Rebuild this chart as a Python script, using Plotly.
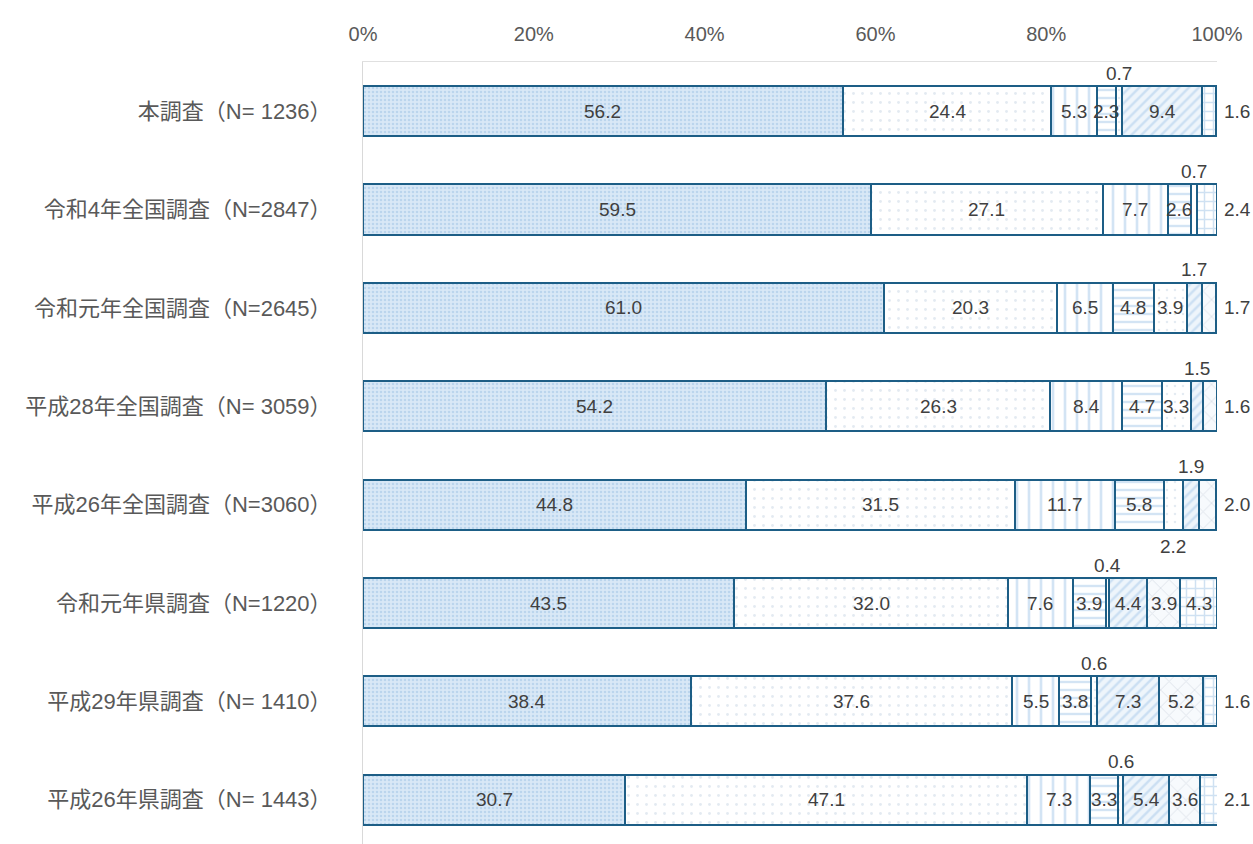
import plotly.graph_objects as go

surveys = [
    "本調査（N= 1236）",
    "令和4年全国調査（N=2847）",
    "令和元年全国調査（N=2645）",
    "平成28年全国調査（N= 3059）",
    "平成26年全国調査（N=3060）",
    "令和元年県調査（N=1220）",
    "平成29年県調査（N= 1410）",
    "平成26年県調査（N= 1443）",
]

c1 = [56.2, 59.5, 61.0, 54.2, 44.8, 43.5, 38.4, 30.7]
c2 = [24.4, 27.1, 20.3, 26.3, 31.5, 32.0, 37.6, 47.1]
c3 = [5.3, 7.7, 6.5, 8.4, 11.7, 7.6, 5.5, 7.3]
c4 = [2.3, 2.6, 4.8, 4.7, 5.8, 3.9, 3.8, 3.3]
c5 = [0.7, 0.7, 3.9, 3.3, 2.2, 0.4, 0.6, 0.6]
c6 = [9.4, 0.0, 1.7, 1.5, 1.9, 4.4, 7.3, 5.4]
c7 = [0.0, 0.0, 1.7, 1.6, 2.0, 3.9, 5.2, 3.6]
c8 = [1.6, 2.4, 0.0, 0.0, 0.0, 4.3, 1.6, 2.1]

series = [c1, c2, c3, c4, c5, c6, c7, c8]
x_ticks = [0, 20, 40, 60, 80, 100]

# label placement overrides: (row, series index) -> where
label_place = {
    (0, 4): "above", (0, 7): "right",
    (1, 4): "above", (1, 7): "right",
    (2, 5): "above", (2, 6): "right",
    (3, 5): "above", (3, 6): "right",
    (4, 4): "below", (4, 5): "above", (4, 6): "right",
    (5, 4): "above",
    (6, 4): "above", (6, 7): "right",
    (7, 4): "above", (7, 7): "right",
}

patterns = [
    dict(shape=".", fgcolor="#9dc1e4", bgcolor="#d9e8f6", size=4, solidity=0.35),
    dict(shape=".", fgcolor="#c8d6e4", bgcolor="#ffffff", size=9, solidity=0.08),
    dict(shape="|", fgcolor="#a8c9ea", bgcolor="#ffffff", size=12, solidity=0.22),
    dict(shape="-", fgcolor="#a8c9ea", bgcolor="#ffffff", size=8, solidity=0.3),
    dict(shape=".", fgcolor="#c8d6e4", bgcolor="#ffffff", size=8, solidity=0.08),
    dict(shape="/", fgcolor="#a8c9ea", bgcolor="#eef5fb", size=7, solidity=0.35),
    dict(shape="x", fgcolor="#c3cdd8", bgcolor="#f7fafd", size=12, solidity=0.15),
    dict(shape="+", fgcolor="#9fc3e6", bgcolor="#ffffff", size=9, solidity=0.3),
]

outline = "#1d5e86"
rows = list(range(len(surveys)))

fig = go.Figure()
for vals, pat in zip(series, patterns):
    fig.add_trace(go.Bar(
        y=rows, x=vals, orientation="h", width=0.51,
        marker=dict(color=pat["bgcolor"], pattern=pat,
                    line=dict(color=outline, width=2)),
        hoverinfo="skip", showlegend=False,
    ))

annotations = []
for r in rows:
    cum = 0.0
    for s, vals in enumerate(series):
        v = vals[r]
        if v <= 0:
            continue
        center = cum + v / 2
        cum += v
        place = label_place.get((r, s), "inside")
        a = dict(x=center, y=r, text=f"{v:.1f}", showarrow=False,
                 font=dict(size=19, color="#404040",
                           family="Liberation Sans, Arial, sans-serif"),
                 xref="x", yref="y")
        if place == "above":
            a["yshift"] = 38
        elif place == "below":
            a["yshift"] = -42
        elif place == "right":
            a["x"] = 100
            a["xanchor"] = "left"
            a["xshift"] = 5
        annotations.append(a)

fig.update_layout(
    barmode="stack",
    width=1253, height=844,
    margin=dict(l=363, r=36, t=62, b=0),
    paper_bgcolor="white", plot_bgcolor="white",
    font=dict(family="Liberation Sans, Noto Sans CJK JP, sans-serif", color="#595959"),
    annotations=annotations,
    xaxis=dict(side="top", range=[0, 100], tickvals=x_ticks,
               ticktext=[f"{t}%" for t in x_ticks],
               showgrid=False, zeroline=False,
               showline=True, linecolor="#e0e0e0", linewidth=1, mirror=False,
               tickfont=dict(size=20, color="#595959"), ticks="",
               ticklabelstandoff=12),
    yaxis=dict(range=[7.45, -0.5], tickvals=rows, ticktext=surveys,
               showgrid=False, zeroline=False,
               showline=True, linecolor="#d9d9d9", linewidth=1,
               tickfont=dict(size=22, color="#595959",
                             family="Liberation Sans, Noto Sans CJK JP, sans-serif"),
               ticks="", ticklabelstandoff=26),
    bargap=0.49,
)

fig.write_html("out.html")
